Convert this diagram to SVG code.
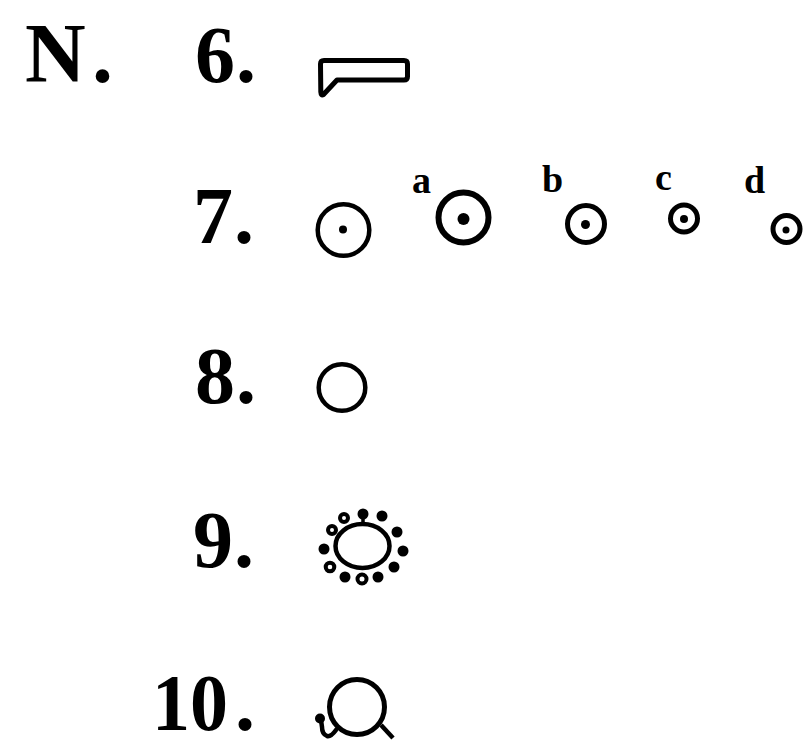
<svg xmlns="http://www.w3.org/2000/svg" width="803" height="747" viewBox="0 0 803 747">
<style>
.lbl{font-family:"Liberation Serif","DejaVu Serif",serif;font-weight:bold;font-size:80px;fill:#000}
.let{font-family:"Liberation Serif","DejaVu Serif",serif;font-weight:bold;font-size:38px;fill:#000}
.ring{fill:none;stroke:#000}
.dot{fill:#000}
.hol{fill:#fff;stroke:#000;stroke-width:4}
</style>
<rect width="803" height="747" fill="#fff"/>
<g id="title"><text class="lbl" x="25" y="82" style="font-size:84px">N<tspan x="92">.</tspan></text></g>
<g id="item6">
<text class="lbl" x="195" y="82">6<tspan x="236">.</tspan></text>
<path d="M324 60.5 H404 Q407.5 60.5 407.5 64 V76.5 Q407.5 80 404 80 H337 L323.5 94.5 Q321 96 320.8 92 L320.5 64 Q320.5 60.5 324 60.5 Z" fill="none" stroke="#000" stroke-width="5" stroke-linejoin="round"/>
</g>
<g id="item7">
<text class="lbl" x="193" y="243">7<tspan x="234">.</tspan></text>
<circle class="ring" cx="343.5" cy="230" r="25.8" stroke-width="4.5"/>
<circle class="dot" cx="343" cy="229.5" r="4"/>
</g>
<g id="item7a">
<text class="let" x="412" y="193">a</text>
<circle class="ring" cx="463.5" cy="217.5" r="25" stroke-width="6"/>
<circle class="dot" cx="463.5" cy="219" r="6"/>
</g>
<g id="item7b">
<text class="let" x="542" y="192">b</text>
<circle class="ring" cx="586" cy="224" r="18.5" stroke-width="5"/>
<circle class="dot" cx="585.5" cy="224.5" r="4.5"/>
</g>
<g id="item7c">
<text class="let" x="655" y="190">c</text>
<circle class="ring" cx="684" cy="218.5" r="13.5" stroke-width="5"/>
<circle class="dot" cx="684" cy="219" r="4"/>
</g>
<g id="item7d">
<text class="let" x="744" y="193">d</text>
<circle class="ring" cx="786.5" cy="229" r="13.5" stroke-width="5"/>
<circle class="dot" cx="786" cy="230" r="3.5"/>
</g>
<g id="item8">
<text class="lbl" x="195" y="403">8<tspan x="236">.</tspan></text>
<circle class="ring" cx="342" cy="387.5" r="23.3" stroke-width="4.5"/>
</g>
<g id="item9">
<text class="lbl" x="193" y="567">9<tspan x="234">.</tspan></text>
<ellipse class="ring" cx="362.5" cy="546" rx="27" ry="22" stroke-width="4.5"/>
<line x1="363" y1="514" x2="363" y2="525" stroke="#000" stroke-width="3.5"/>
<circle class="dot" cx="363" cy="514" r="5.5"/>
<circle class="dot" cx="382" cy="516" r="5.5"/>
<circle class="dot" cx="397" cy="532" r="5.5"/>
<circle class="dot" cx="403" cy="551" r="5.5"/>
<circle class="dot" cx="394" cy="567" r="5.5"/>
<circle class="dot" cx="378" cy="577" r="5.5"/>
<circle class="dot" cx="345" cy="577" r="5.5"/>
<circle class="dot" cx="324" cy="549" r="5.5"/>
<circle class="hol" cx="344" cy="518" r="4"/>
<circle class="hol" cx="332" cy="530" r="4"/>
<circle class="hol" cx="330" cy="567" r="4.3"/>
<circle class="hol" cx="362" cy="579" r="4.5"/>
</g>
<g id="item10">
<text class="lbl" x="152" y="730" textLength="76" lengthAdjust="spacingAndGlyphs">10</text>
<text class="lbl" x="235" y="730">.</text>
<circle class="ring" cx="357" cy="707" r="27.5" stroke-width="5"/>
<path d="M336 730 Q331 737 327 736 Q322 734 322 727 L321 720" fill="none" stroke="#000" stroke-width="4.5" stroke-linecap="round"/>
<circle class="dot" cx="320" cy="718.5" r="5"/>
<line x1="381" y1="725" x2="393" y2="738" stroke="#000" stroke-width="4.5"/>
</g>
</svg>
